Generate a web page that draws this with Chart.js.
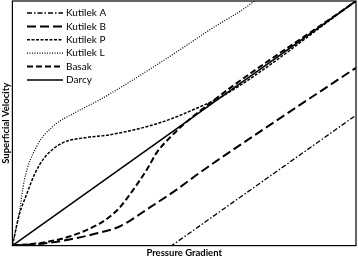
<!DOCTYPE html>
<html>
<head>
<meta charset="utf-8">
<script src="https://cdn.jsdelivr.net/npm/chart.js@4.4.1/dist/chart.umd.min.js"></script>
<style>
  html, body { margin: 0; padding: 0; background: #fff; }
  #wrap { width: 358px; height: 260px; }
</style>
</head>
<body>
<div id="wrap"><canvas id="flowChart"></canvas></div>
<script>
// values, axes scaled 0..10 (no tick labels shown)
const seriesNames = ['Kutilek A', 'Kutilek B', 'Kutilek P', 'Kutilek L', 'Basak', 'Darcy'];

const kutilekAX = [0, 4.64, 10];
const kutilekAY = [0, 0, 5.33];

const kutilekBX = [0, 0.875, 1.66, 2.54, 3.12, 3.99, 4.78, 5.45, 7.29, 10];
const kutilekBY = [0, 0.08, 0.25, 0.53, 0.78, 1.55, 2.29, 2.98, 4.74, 7.27];

const kutilekPX = [0, 0.2, 0.41, 0.64, 0.93, 1.46, 2.1, 2.83, 4.29, 5.45, 6.18, 10];
const kutilekPY = [0, 1.27, 2.08, 2.9, 3.59, 4.2, 4.41, 4.53, 5.02, 5.67, 6.16, 10];

const kutilekLX = [0, 0.2, 0.35, 0.7, 1.17, 1.87, 2.54, 3.41, 4.2, 4.87, 5.74, 7.0, 7.1];
const kutilekLY = [0, 1.35, 2.69, 4.04, 4.86, 5.47, 5.96, 6.69, 7.39, 8.0, 8.82, 9.96, 10.1];

const basakX = [0, 0.875, 1.66, 2.54, 2.83, 3.12, 3.5, 3.91, 4.2, 4.58, 5.25, 10];
const basakY = [0, 0.12, 0.37, 0.9, 1.18, 1.55, 2.25, 3.1, 3.8, 4.41, 5.27, 10];

const darcyX = [0, 10];
const darcyY = [0, 10];

const dashes = [[5, 2, 1.5, 2], [9, 4], [3, 1.5], [1, 1.5], [6, 3], []];
const widths = [1.3, 2, 1.5, 1.2, 2, 1.6];
const curved = [false, true, true, true, true, false];

function pts(xs, ys) {
  return xs.map((x, i) => ({ x: x, y: ys[i] }));
}

const allX = [kutilekAX, kutilekBX, kutilekPX, kutilekLX, basakX, darcyX];
const allY = [kutilekAY, kutilekBY, kutilekPY, kutilekLY, basakY, darcyY];

const datasets = seriesNames.map((name, i) => ({
  label: name,
  data: pts(allX[i], allY[i]),
  borderColor: '#000',
  borderWidth: widths[i],
  borderDash: dashes[i],
  pointRadius: 0,
  fill: false,
  tension: 0,
  cubicInterpolationMode: curved[i] ? 'monotone' : 'default'
}));

// legend inside the plot + frame round the chart area
const boxLegend = {
  id: 'boxLegend',
  afterDatasetsDraw(chart) {
    const ctx = chart.ctx;
    const a = chart.chartArea;
    ctx.save();
    ctx.strokeStyle = '#000';
    ctx.lineWidth = 1.2;
    ctx.setLineDash([]);
    ctx.strokeRect(a.left, a.top, a.right - a.left, a.bottom - a.top);

    ctx.font = '10px Lato';
    ctx.fillStyle = '#000';
    ctx.textBaseline = 'middle';
    chart.data.datasets.forEach((ds, i) => {
      const y = 13 + i * 13.4;
      ctx.beginPath();
      ctx.lineWidth = ds.borderWidth;
      ctx.setLineDash(ds.borderDash);
      ctx.moveTo(27, y);
      ctx.lineTo(63, y);
      ctx.stroke();
      ctx.setLineDash([]);
      ctx.fillText(ds.label, 66, y);
    });
    ctx.restore();
  }
};

new Chart(document.getElementById('flowChart'), {
  type: 'line',
  data: { datasets: datasets },
  options: {
    responsive: true,
    maintainAspectRatio: false,
    animation: false,
    layout: { padding: { top: 1, right: 2, left: 0, bottom: 0 } },
    plugins: {
      legend: { display: false },
      tooltip: { enabled: false }
    },
    scales: {
      x: {
        type: 'linear',
        min: 0,
        max: 10,
        grid: { display: false, drawTicks: false },
        border: { display: false },
        ticks: { display: false },
        title: {
          display: true,
          text: 'Pressure Gradient',
          color: '#000',
          font: { family: 'Lato', size: 9.5, weight: 'bold' },
          padding: { top: 2, bottom: 1 }
        }
      },
      y: {
        min: 0,
        max: 10,
        grid: { display: false, drawTicks: false },
        border: { display: false },
        ticks: { display: false },
        title: {
          display: true,
          text: 'Superficial Velocity',
          color: '#000',
          font: { family: 'Lato', size: 9.5, weight: 'bold' },
          padding: { top: 0, bottom: 1 }
        }
      }
    }
  },
  plugins: [boxLegend]
});
</script>
</body>
</html>
